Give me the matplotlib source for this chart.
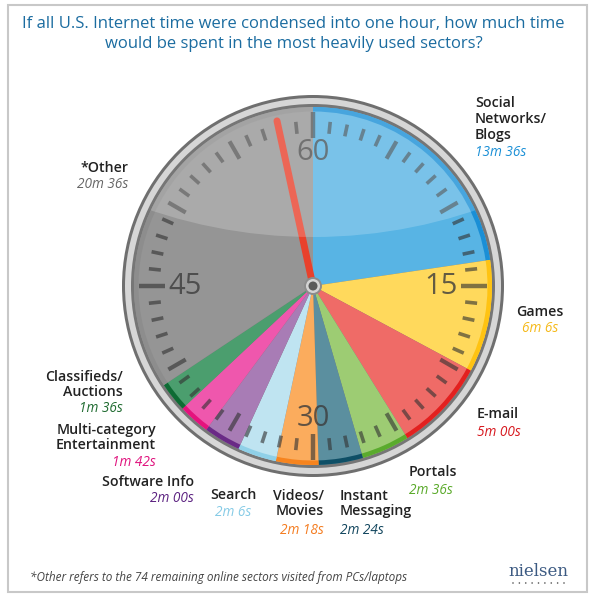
"""Nielsen clock chart: one hour of U.S. internet time split by sector."""

import matplotlib

matplotlib.use("Agg")
import matplotlib.pyplot as plt
from matplotlib.patches import Circle, Rectangle
import numpy as np

plt.rcParams["font.family"] = ["Open Sans", "DejaVu Sans"]

sectors = [
    "Social\nNetworks/\nBlogs", "Games", "E-mail", "Portals",
    "Instant\nMessaging", "Videos/\nMovies", "Search", "Software Info",
    "Multi-category\nEntertainment", "Classifieds/\nAuctions", "*Other",
]
minutes = [13.6, 6.1, 5.0, 2.6, 2.4, 2.3, 2.1, 2.0, 1.7, 1.6, 20.6]
time_labels = [
    "13m 36s", "6m 6s", "5m 00s", "2m 36s", "2m 24s", "2m 18s",
    "2m 6s", "2m 00s", "1m 42s", "1m 36s", "20m 36s",
]
face_colors = [
    "#58b4e4", "#ffd95c", "#ef6b67", "#9dcc73", "#5b8f9f", "#fbac5d",
    "#bfe4f1", "#a87cb5", "#ef57ad", "#4b9e6e", "#959595",
]
edge_colors = [
    "#1a8fd6", "#ffc312", "#e3201f", "#5aab2d", "#0e4f66", "#f7841e",
    "#8fd0e8", "#6a2a86", "#e5127d", "#0e6b34", "#8d8d8d",
]
value_colors = [
    "#1a8fd6", "#f5b918", "#d7191f", "#5aaa2a", "#12465e", "#f47c20",
    "#86cbe6", "#5c2281", "#e0127d", "#1f6b30", "#666666",
]
dial_numbers = [60, 15, 30, 45]
hand_minute = 57.95

# label placement in picture pixels: x, name centre y, value y, alignment
label_layout = [
    (475, 119, 152, "left"), (540, 312, 328, "center"),
    (477, 414, 432, "left"), (409, 472, 490, "left"),
    (340, 503.5, 530, "left"), (324, 503.5, 530, "right"),
    (233, 495, 513, "center"), (194, 482, 498, "right"),
    (156, 437.5, 463, "right"), (123, 384.5, 409, "right"),
    (128, 168, 184, "right"),
]

W, H = 597, 600
CX, CY = 313, H - 286
R_FACE = 179


def py(y):
    return H - y


def polar(minute, r):
    a = np.deg2rad(90 - 6 * minute)
    return CX + r * np.cos(a), CY + r * np.sin(a)


fig = plt.figure(figsize=(W / 100, H / 100), dpi=100)
ax = fig.add_axes([0, 0, 1, 1])

# bezel
ax.add_patch(Circle((CX, CY), 191, fc="#6f6f6f", ec="none", zorder=1))
ax.add_patch(Circle((CX, CY), 188, fc="#d6d6d6", ec="none", zorder=1))
ax.add_patch(Circle((CX, CY), 182, fc="#767676", ec="none", zorder=1))

# face and coloured rim
ax.pie(minutes, colors=face_colors, radius=R_FACE, center=(CX, CY),
       startangle=90, counterclock=False,
       wedgeprops={"linewidth": 0, "zorder": 2})
ax.pie(minutes, colors=edge_colors, radius=R_FACE, center=(CX, CY),
       startangle=90, counterclock=False,
       wedgeprops={"linewidth": 0, "width": 4.5, "zorder": 2})

# minute ticks
for m in range(60):
    if m % 15 == 0:
        r0, r1, lw = 148, 174, 3.2
    elif m % 5 == 0:
        r0, r1, lw = 147, 167, 3.0
    else:
        r0, r1, lw = 153, 165, 2.6
    x0, y0 = polar(m, r0)
    x1, y1 = polar(m, r1)
    ax.plot([x0, x1], [y0, y1], color="#333333", alpha=0.62, lw=lw,
            solid_capstyle="butt", zorder=3)

for n in dial_numbers:
    r = 133 if n in (60, 30) else 128
    x, y = polar(n % 60, r)
    ax.text(x, y, str(n), fontsize=21, color="#3c3c3c", alpha=0.8,
            ha="center", va="center", zorder=3)

# red hand
hx, hy = polar(hand_minute, 169)
ax.plot([CX, hx], [CY, hy], color="#e8412c", lw=5,
        solid_capstyle="round", zorder=4)

# glossy highlight on the upper face
face = Circle((CX, CY), R_FACE, transform=ax.transData)
gloss = Circle((CX, py(-269)), 506, fc="white", ec="none", alpha=0.2,
               zorder=5)
ax.add_patch(gloss)
gloss.set_clip_path(face)

# hub
ax.add_patch(Circle((CX, CY), 8, fc="#d4d4d4", ec="#8c8c8c", lw=1.4,
                    zorder=6))
ax.add_patch(Circle((CX, CY), 4.5, fc="#5a5a5a", ec="none", zorder=7))

# sector labels
for name, value, color, (x, y_name, y_val, ha) in zip(
        sectors, time_labels, value_colors, label_layout):
    ax.text(x, py(y_name), name, fontsize=10.2, fontweight="semibold",
            color="#222222", ha=ha, va="center", linespacing=1.15)
    ax.text(x, py(y_val), value, fontsize=9.8, fontstyle="italic",
            color=color, ha=ha, va="center")

ax.text(W / 2 - 5, py(34),
        "If all U.S. Internet time were condensed into one hour, how much time\n"
        "would be spent in the most heavily used sectors?",
        fontsize=12, color="#1b6ca0", ha="center", va="center",
        linespacing=1.3)

ax.text(30, py(577),
        "*Other refers to the 74 remaining online sectors visited from PCs/laptops",
        fontsize=8.5, fontstyle="italic", color="#444444", ha="left",
        va="center")

# nielsen mark
ax.text(538, py(571), "nielsen", family="DejaVu Serif", fontsize=12,
        color="#3c5a82", ha="center", va="center")
for dx in np.linspace(513, 564, 9):
    ax.add_patch(Circle((dx, py(583)), 0.8, fc="#555555", ec="none"))

ax.add_patch(Rectangle((8, py(592)), 579, 587, fill=False, ec="#c8c8c8",
                       lw=1.5))

ax.set_xlim(0, W)
ax.set_ylim(0, H)
ax.set_aspect("auto")
ax.axis("off")

fig.savefig("out.png", dpi=100)
